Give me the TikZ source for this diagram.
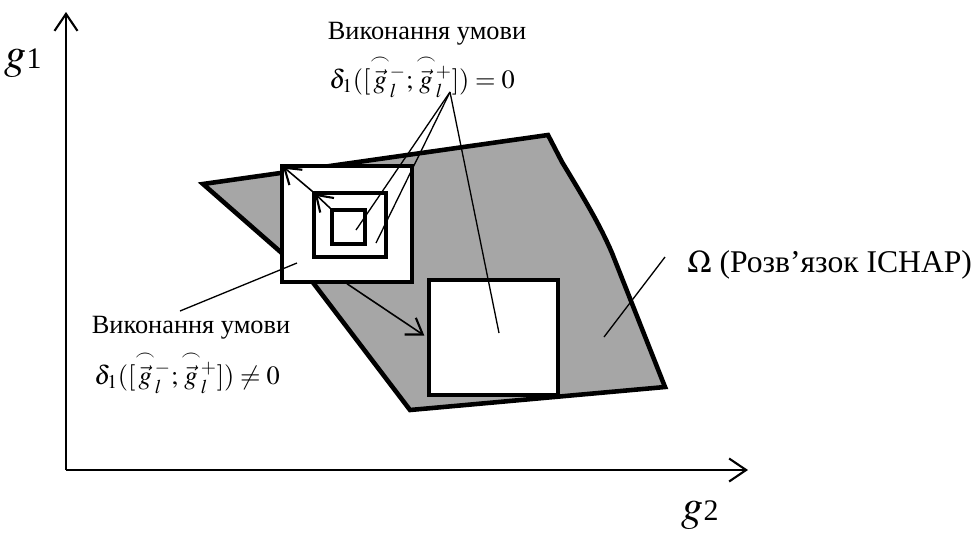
\documentclass[tikz,border=0pt]{standalone}
\usepackage{amsmath}
\usepackage{mathptmx}
\usepackage{fontspec}
\setmainfont{Liberation Serif}
\usetikzlibrary{arrows.meta}
\newcommand{\gvec}{\overset{\frown}{\vec{g}}}
\tikzset{
  box/.style={draw, fill=white, line width=2pt, inner sep=0pt},
  leader/.style={line width=0.75pt},
  pointer/.style={line width=0.9pt, -{Straight Barb[length=3mm, width=4mm, line width=1.2pt]}, shorten >=2pt},
  axis/.style={line width=1.4pt, -{Straight Barb[length=3.4mm, width=4.6mm, line width=1.2pt]}},
  lbl/.style={font=\fontsize{15}{17}\selectfont, inner sep=0pt}
}
\begin{document}
\begin{tikzpicture}[x=0.02cm, y=-0.02cm]
\useasboundingbox (0,0) rectangle (977,532);
\filldraw[fill=black!35, line width=2.6pt] (203,184) -- (548,135) -- (562,162) .. controls (585,200) and (600,225) .. (612,253) -- (665,387) -- (410,410) -- (308,276) -- cycle;
\coordinate (origin) at (66,470);
\coordinate (g1end) at (66,12);
\coordinate (g2end) at (748,470);
\draw[axis] (origin) -- (g1end);
\draw[axis] (origin) -- (g2end);
\node[inner sep=0pt] (g1lbl) at (23,63) {{\fontsize{25}{25}\selectfont$g$}{\fontsize{17}{17}\selectfont 1}};
\node[inner sep=0pt] (g2lbl) at (700,515) {{\fontsize{25}{25}\selectfont$g$}{\fontsize{17}{17}\selectfont 2}};
\node[box, minimum width=2.6cm, minimum height=2.32cm] (outer) at (347,224) {};
\node[box, minimum width=1.44cm, minimum height=1.28cm] (middle) at (350,225) {};
\node[box, minimum width=0.66cm, minimum height=0.68cm] (inner) at (348.5,227) {};
\node[box, minimum width=2.58cm, minimum height=2.3cm] (big) at (493.5,337.5) {};
\draw[pointer] (inner.north west) -- (middle.north west);
\draw[pointer] (middle.north west) -- (outer.north west);
\draw[pointer] (outer.south) -- (big.west);
\node[lbl] (cond1) at (427,34) {Виконання умови};
\node[lbl] (form1) at (422,76) {$\delta_1([\gvec{}_l^{-};\gvec{}_l^{+}])=0$};
\node[lbl] (cond2) at (191,328) {Виконання умови};
\node[lbl] (form2) at (187,372) {$\delta_1([\gvec{}_l^{-};\gvec{}_l^{+}])\neq0$};
\node[inner sep=0pt, font=\fontsize{18}{20}\selectfont, anchor=west] (omega) at (687,265) {$\boldsymbol{\Omega}$ (Розв’язок ІСНАР)};
\coordinate (top) at (450,92);
\coordinate (p1) at (356,230);
\coordinate (p2) at (376,243);
\coordinate (p3) at (499,333);
\coordinate (p4) at (297,263);
\coordinate (p5) at (180,311);
\coordinate (p6) at (604,337);
\coordinate (p7) at (665,257);
\draw[leader] (top) -- (p1);
\draw[leader] (top) -- (p2);
\draw[leader] (top) -- (p3);
\draw[leader] (p4) -- (p5);
\draw[leader] (p6) -- (p7);
\end{tikzpicture}
\end{document}
